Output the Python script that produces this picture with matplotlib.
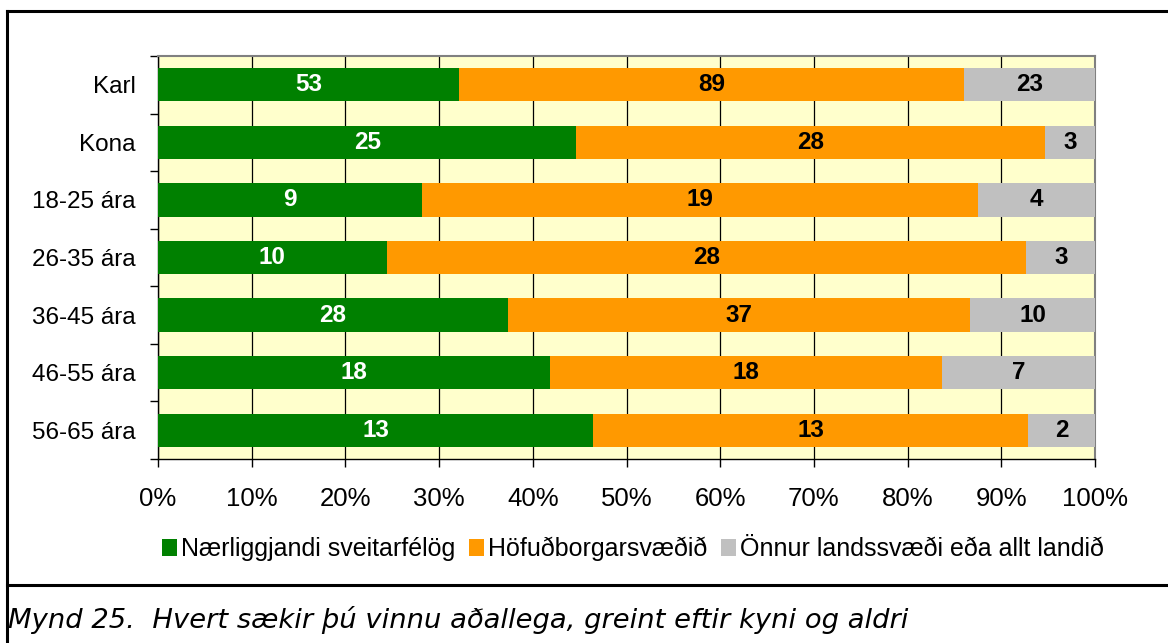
import numpy as np
import matplotlib.pyplot as plt
from matplotlib.lines import Line2D

plt.rcParams['font.family'] = ['Liberation Sans', 'DejaVu Sans']

categories = ["Karl", "Kona", "18-25 ára", "26-35 ára", "36-45 ára", "46-55 ára", "56-65 ára"]
naerliggjandi = [53, 25, 9, 10, 28, 18, 13]
hofudborg = [89, 28, 19, 28, 37, 18, 13]
onnur = [23, 3, 4, 3, 10, 7, 2]
series_names = ["Nærliggjandi sveitarfélög", "Höfuðborgarsvæðið", "Önnur landssvæði eða allt landið"]
colors = ["#008000", "#FF9900", "#C0C0C0"]
text_colors = ["white", "black", "black"]
xtick_labels = ["0%", "10%", "20%", "30%", "40%", "50%", "60%", "70%", "80%", "90%", "100%"]

W, H = 1168, 643
fig = plt.figure(figsize=(W / 100, H / 100), dpi=100)
ax = fig.add_axes([158 / W, 1 - 459 / H, (1095 - 158) / W, (459 - 56) / H])
ax.set_facecolor("#FFFFCC")

counts = np.array([naerliggjandi, hofudborg, onnur], dtype=float)
totals = counts.sum(axis=0)
shares = counts / totals
y = np.arange(len(categories))

left = np.zeros(len(categories))
for i in range(3):
    bars = ax.barh(y, shares[i], left=left, height=0.58, color=colors[i],
                   label=series_names[i], zorder=3)
    for j, b in enumerate(bars):
        ax.text(left[j] + shares[i][j] / 2, y[j], f"{int(counts[i][j])}",
                ha="center", va="center", color=text_colors[i],
                fontsize=17.5, fontweight="bold", zorder=4)
    left += shares[i]

ax.set_xlim(0, 1)
ax.set_ylim(len(categories) - 0.5, -0.5)
ax.set_xticks(np.linspace(0, 1, 11))
ax.set_xticklabels(xtick_labels, fontsize=18.5)
ax.xaxis.grid(True, color="black", linewidth=0.9, zorder=1)
ax.set_axisbelow(True)

ax.set_yticks(np.arange(-0.5, len(categories), 1))
ax.set_yticklabels([])
ax.set_yticks(y, minor=True)
ax.set_yticklabels(categories, minor=True, fontsize=17.5)
ax.tick_params(axis="y", which="minor", length=0, pad=16)
ax.tick_params(axis="y", which="major", length=6, width=1, direction="out")
ax.tick_params(axis="x", length=6, width=1, direction="out", pad=14)

for s in ["top", "right"]:
    ax.spines[s].set_color("#808080")
    ax.spines[s].set_linewidth(1.5)
for s in ["left", "bottom"]:
    ax.spines[s].set_color("black")
    ax.spines[s].set_linewidth(1)

fig.legend(loc="center", bbox_to_anchor=(633 / W, 1 - 549 / H), ncol=3,
           frameon=False, fontsize=18, handlelength=0.6, handleheight=0.7,
           handletextpad=0.15, columnspacing=0.55)

fig.text(8 / W, 1 - 620 / H, "Mynd 25.  Hvert sækir þú vinnu aðallega, greint eftir kyni og aldri",
         fontsize=19.7, style="italic", family="DejaVu Sans", va="center", ha="left")

# frame around the figure
lw = 2.2
fig.add_artist(Line2D([7 / W, 7 / W], [0, 1 - 11 / H], transform=fig.transFigure, color="black", lw=lw))
fig.add_artist(Line2D([7 / W, 1], [1 - 11 / H, 1 - 11 / H], transform=fig.transFigure, color="black", lw=lw))
fig.add_artist(Line2D([7 / W, 1], [1 - 585 / H, 1 - 585 / H], transform=fig.transFigure, color="black", lw=lw))

fig.savefig("out.png", dpi=100)
